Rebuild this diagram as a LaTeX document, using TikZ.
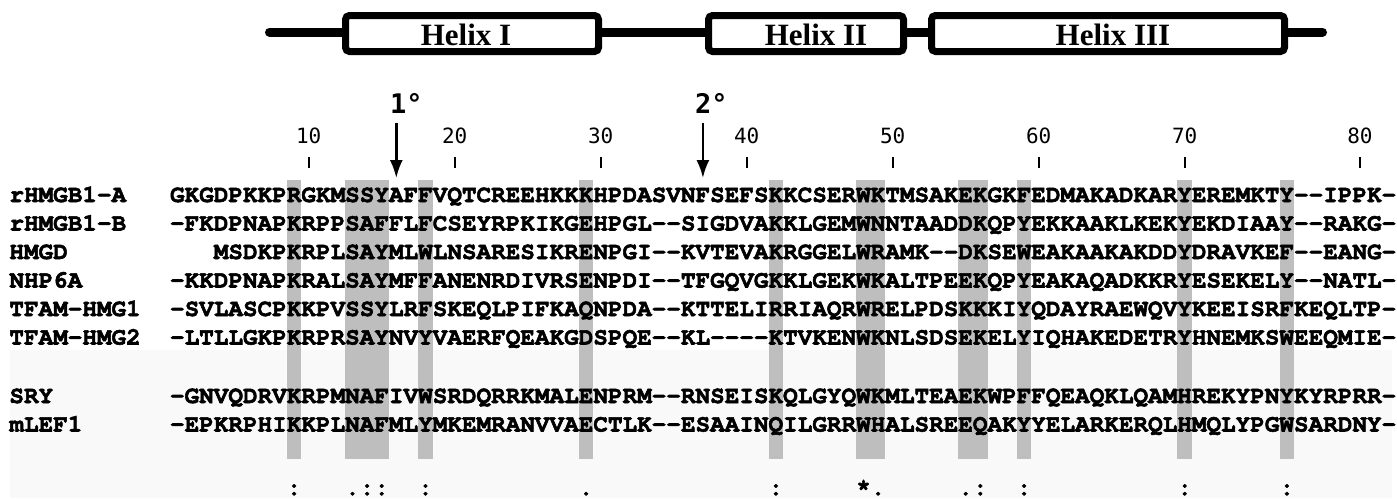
\documentclass[tikz,border=0pt]{standalone}
\usepackage{fontspec}
\setmonofont{TeX Gyre Cursor}[BoldFeatures={FakeBold=2.2}]
\newfontfamily\rulerfont{DejaVu Sans Mono}
\newfontfamily\helixfont{Liberation Serif}
\usetikzlibrary{arrows.meta}

\definecolor{conscol}{RGB}{190,190,190}
\definecolor{hazecol}{RGB}{249,249,249}
\newcommand\seqsize{\fontsize{24.33}{28}\selectfont}

\tikzset{
  seqtext/.style={anchor=base west, inner sep=0pt, outer sep=0pt, font=\ttfamily\bfseries\seqsize},
  consmark/.style={anchor=base, inner sep=0pt, font=\ttfamily\bfseries\seqsize},
  consbar/.style={fill=conscol, draw=none},
  helixbox/.style={draw, line width=7pt, rounded corners=4pt, fill=white,
                   minimum height=36pt, inner sep=0pt},
  helixlabel/.style={anchor=base, inner sep=0pt, font=\helixfont\bfseries\fontsize{31}{31}\selectfont},
  rulertick/.style={line width=2.4pt},
  rulernum/.style={anchor=base, inner sep=0pt, font=\rulerfont\fontsize{21}{21}\selectfont},
  sitelabel/.style={anchor=base west, inner sep=0pt, font=\rulerfont\bfseries\fontsize{27}{27}\selectfont},
  cutarrow/.style={-{Latex[length=18pt,width=13pt]}, line width=2.4pt},
}

% column geometry: first residue column starts at x0, each column is cw wide
\def\xzero{170}
\def\cw{14.6}

\begin{document}
\begin{tikzpicture}[x=1pt, y=-1pt]
\useasboundingbox (0,0) rectangle (1397,498);
\fill[white] (0,0) rectangle (1397,498);
\fill[hazecol] (10,350) rectangle (1392,498);

% domain cartoon: backbone line with three helix boxes
\coordinate (bbL) at (269.5,32);
\coordinate (bbR) at (1322.5,32);
\draw[line width=9pt, line cap=round] (bbL) -- (bbR);
\node[helixbox, minimum width=253pt] (h1) at (472,33.5) {};
\node[helixbox, minimum width=195pt] (h2) at (806,33.5) {};
\node[helixbox, minimum width=353pt] (h3) at (1108,33.5) {};
\node[helixlabel] (h1t) at (466,45) {Helix I};
\node[helixlabel] (h2t) at (816,45) {Helix II};
\node[helixlabel] (h3t) at (1113,45) {Helix III};

% shaded conserved columns
\foreach \a/\b in {9/9,13/15,18/18,29/29,42/42,48/49,55/56,59/59,70/70,77/77}
  \fill[consbar] ({\xzero+(\a-1)*\cw},180) rectangle ({\xzero+\b*\cw},459);

% ruler
\foreach \n/\c in {10/10,20/20,30/30,40/40,50/50,60/60,70/70,80/82}{
  \coordinate (t\n a) at ({\xzero+(\c-0.5)*\cw},157);
  \coordinate (t\n b) at ({\xzero+(\c-0.5)*\cw},168);
  \draw[rulertick] (t\n a) -- (t\n b);
  \node[rulernum] (num\n) at ({\xzero+(\c-0.5)*\cw},143.5) {\n};
}

% cleavage sites
\node[sitelabel] (site1) at (390,113) {1°};
\node[sitelabel] (site2) at (695,113) {2°};
\coordinate (s1a) at ({\xzero+15.5*\cw},123);
\coordinate (s1b) at ({\xzero+15.5*\cw},178);
\coordinate (s2a) at ({\xzero+36.5*\cw},123);
\coordinate (s2b) at ({\xzero+36.5*\cw},178);
\draw[cutarrow] (s1a) -- (s1b);
\draw[cutarrow] (s2a) -- (s2b);

% sequence names
\node[seqtext] (n1) at ({\xzero-11*\cw},202)   {rHMGB1-A};
\node[seqtext] (n2) at ({\xzero-11*\cw},230.5) {rHMGB1-B};
\node[seqtext] (n3) at ({\xzero-11*\cw},259)   {HMGD};
\node[seqtext] (n4) at ({\xzero-11*\cw},287.5) {NHP6A};
\node[seqtext] (n5) at ({\xzero-11*\cw},316)   {TFAM-HMG1};
\node[seqtext] (n6) at ({\xzero-11*\cw},344.5) {TFAM-HMG2};
\node[seqtext] (n7) at ({\xzero-11*\cw},403)   {SRY};
\node[seqtext] (n8) at ({\xzero-11*\cw},431.5) {mLEF1};

% aligned sequences
\node[seqtext] (q1) at (\xzero,202)   {GKGDPKKPRGKMSSYAFFVQTCREEHKKKHPDASVNFSEFSKKCSERWKTMSAKEKGKFEDMAKADKARYEREMKTY--IPPK-};
\node[seqtext] (q2) at (\xzero,230.5) {-FKDPNAPKRPPSAFFLFCSEYRPKIKGEHPGL--SIGDVAKKLGEMWNNTAADDKQPYEKKAAKLKEKYEKDIAAY--RAKG-};
\node[seqtext] (q3) at (\xzero,259)   {\phantom{---}MSDKPKRPLSAYMLWLNSARESIKRENPGI--KVTEVAKRGGELWRAMK--DKSEWEAKAAKAKDDYDRAVKEF--EANG-};
\node[seqtext] (q4) at (\xzero,287.5) {-KKDPNAPKRALSAYMFFANENRDIVRSENPDI--TFGQVGKKLGEKWKALTPEEKQPYEAKAQADKKRYESEKELY--NATL-};
\node[seqtext] (q5) at (\xzero,316)   {-SVLASCPKKPVSSYLRFSKEQLPIFKAQNPDA--KTTELIRRIAQRWRELPDSKKKIYQDAYRAEWQVYKEEISRFKEQLTP-};
\node[seqtext] (q6) at (\xzero,344.5) {-LTLLGKPKRPRSAYNVYVAERFQEAKGDSPQE--KL----KTVKENWKNLSDSEKELYIQHAKEDETRYHNEMKSWEEQMIE-};
\node[seqtext] (q7) at (\xzero,403)   {-GNVQDRVKRPMNAFIVWSRDQRRKMALENPRM--RNSEISKQLGYQWKMLTEAEKWPFFQEAQKLQAMHREKYPNYKYRPRR-};
\node[seqtext] (q8) at (\xzero,431.5) {-EPKRPHIKKPLNAFMLYMKEMRANVVAECTLK--ESAAINQILGRRWHALSREEQAKYYELARKERQLHMQLYPGWSARDNY-};

% conservation line
\foreach \c/\s in {9/:,13/.,14/:,15/:,18/:,29/.,42/:,48/*,49/.,55/.,56/:,59/:,70/:,77/:}
  \node[consmark] (cm\c) at ({\xzero+(\c-0.5)*\cw},495) {\s};
\end{tikzpicture}
\end{document}
